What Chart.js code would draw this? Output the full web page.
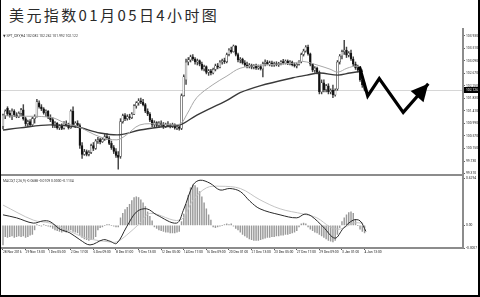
<!DOCTYPE html>
<html>
<head>
<meta charset="utf-8">
<script src="https://cdn.jsdelivr.net/npm/chart.js@4.4.0/dist/chart.umd.min.js"></script>
<style>
  body { margin: 0; background: #fff; }
  #wrap { position: relative; width: 480px; height: 297px; overflow: hidden; font-family: Roboto, "DejaVu Sans", sans-serif; }
  #frame { position: absolute; left: 0; top: 0; width: 477px; height: 295px; border-left: 1px solid #000; border-right: 2px solid #000; border-bottom: 2px solid #000; }
  #title { position: absolute; left: 9px; top: 4px; font: 15px "Noto Sans CJK SC", sans-serif; letter-spacing: 2.4px; color: #2a2a2a; white-space: nowrap; }
  .hdr { position: absolute; left: 3px; font-size: 3.4px; color: #333; white-space: nowrap; }
  canvas { position: absolute; left: 0; }
</style>
</head>
<body>
<div id="wrap">
  <div id="title">美元指数01月05日4小时图</div>
  <canvas id="priceChart" width="480" height="150" style="top:28px"></canvas>
  <canvas id="macdChart" width="480" height="92" style="top:170px"></canvas>
  <div class="hdr" style="top:34px">&#9660; SPT_DXY,H4 102.082 102.262 101.992 102.122</div>
  <div class="hdr" style="top:179px">MACD(12,26,9) -0.0688 -0.0109 0.0000 -0.1134</div>
  <div id="frame"></div>
</div>
<script>
// K线 (H4)，每根一个值
var opens = [100.88,101.25,101.50,101.33,101.25,101.40,101.28,101.22,101.33,101.45,
  101.15,100.98,101.05,100.95,101.15,101.22,101.68,101.55,101.48,101.35,
  101.40,101.20,101.12,100.92,101.00,100.85,100.90,100.82,101.00,100.95,
  100.85,101.40,100.92,101.00,100.92,100.25,99.95,100.05,99.95,100.02,
  100.25,100.15,100.40,100.45,100.38,100.46,100.55,100.50,100.32,100.18,
  100.05,99.92,99.88,101.05,101.25,101.15,101.22,101.18,101.30,101.58,
  101.68,101.75,101.70,101.62,101.40,101.30,101.10,100.95,101.02,100.92,
  101.00,100.95,100.88,100.96,100.92,100.90,100.95,100.84,100.88,100.82,
  101.92,102.45,103.05,103.12,103.22,103.15,103.05,103.10,102.98,102.82,
  102.90,102.70,102.75,102.68,102.80,102.92,102.88,103.05,103.10,103.06,
  103.30,103.45,103.40,103.58,103.30,103.12,103.15,103.02,102.95,102.90,
  102.95,102.88,102.92,102.85,102.90,102.82,103.00,103.05,102.98,103.02,
  102.95,103.00,102.96,103.00,103.06,103.02,103.08,103.00,103.05,102.96,
  102.92,102.97,103.05,103.30,103.42,103.55,103.32,102.98,102.78,102.85,
  102.70,102.05,102.35,102.12,102.25,102.05,102.10,101.95,102.15,103.05,
  103.25,103.40,103.45,103.28,103.35,103.15,102.98,102.85,102.78,102.45,
  102.28];
var highs = [101.30,101.45,101.55,101.42,101.48,101.45,101.35,101.38,101.50,101.62,
  101.20,101.10,101.12,101.20,101.28,101.80,101.75,101.62,101.52,101.45,
  101.42,101.28,101.18,101.05,101.02,100.95,100.98,101.05,101.08,101.00,
  101.45,101.55,101.05,101.08,100.98,100.35,100.12,100.10,100.08,100.30,
  100.35,100.45,100.52,100.50,100.50,100.62,100.65,100.55,100.40,100.25,
  100.15,100.05,101.15,101.30,101.32,101.28,101.30,101.35,101.62,101.72,
  101.82,101.84,101.80,101.66,101.48,101.35,101.15,101.08,101.05,101.05,
  101.08,101.02,101.00,101.05,100.98,101.00,100.98,100.92,100.90,101.98,
  102.62,103.15,103.20,103.28,103.30,103.20,103.15,103.12,103.05,102.95,
  102.92,102.80,102.80,102.85,102.98,103.00,103.10,103.15,103.18,103.35,
  103.50,103.55,103.62,103.60,103.35,103.20,103.18,103.10,103.05,103.00,
  102.98,102.96,102.98,102.95,102.95,103.05,103.12,103.10,103.08,103.08,
  103.05,103.06,103.04,103.10,103.14,103.12,103.12,103.10,103.08,103.02,
  103.00,103.10,103.35,103.48,103.60,103.62,103.35,103.00,102.90,102.88,
  102.75,102.45,102.45,102.30,102.32,102.15,102.28,102.15,103.10,103.30,
  103.45,103.78,103.55,103.40,103.45,103.22,103.05,102.95,102.85,102.55,
  102.35];
var lows = [100.81,101.15,101.25,101.20,101.12,101.22,101.18,101.18,101.25,101.10,
  100.90,100.88,100.90,100.92,101.00,101.20,101.50,101.42,101.30,101.22,
  101.15,101.05,100.85,100.85,100.80,100.78,100.78,100.80,100.90,100.80,
  100.82,100.88,100.85,100.88,100.15,99.82,99.92,99.90,99.90,99.98,
  100.08,100.12,100.32,100.30,100.35,100.42,100.45,100.28,100.12,99.98,
  99.85,99.46,99.82,101.00,101.08,101.10,101.12,101.15,101.28,101.50,
  101.60,101.65,101.58,101.35,101.25,101.05,100.88,100.88,100.88,100.85,
  100.90,100.82,100.85,100.88,100.84,100.85,100.80,100.78,100.76,100.78,
  101.90,102.30,102.95,103.05,103.10,102.98,102.95,102.92,102.78,102.75,
  102.65,102.60,102.62,102.65,102.75,102.82,102.85,102.98,103.00,103.02,
  103.25,103.35,103.38,103.25,103.05,103.02,102.98,102.90,102.85,102.85,
  102.82,102.82,102.80,102.80,102.78,102.55,102.92,102.95,102.92,102.90,
  102.90,102.92,102.90,102.95,102.98,102.98,102.96,102.95,102.92,102.88,
  102.85,102.94,103.02,103.25,103.38,103.28,102.92,102.72,102.70,102.65,
  101.98,101.98,102.05,102.05,101.98,101.98,101.85,101.90,102.10,102.98,
  103.15,103.30,103.20,103.22,103.10,102.92,102.80,102.72,102.40,102.20,
  102.08];
var closes = [101.27,101.40,101.32,101.25,101.40,101.28,101.22,101.33,101.45,101.15,
  100.98,101.05,100.95,101.15,101.22,101.72,101.55,101.48,101.35,101.40,
  101.20,101.12,100.92,101.00,100.85,100.90,100.82,101.00,100.95,100.85,
  101.40,100.92,101.00,100.92,100.25,99.95,100.05,99.95,100.02,100.25,
  100.15,100.40,100.45,100.38,100.46,100.55,100.50,100.32,100.18,100.05,
  99.92,99.85,101.05,101.25,101.15,101.22,101.18,101.30,101.58,101.68,
  101.75,101.70,101.62,101.40,101.30,101.10,100.95,101.02,100.92,101.00,
  100.95,100.88,100.96,100.92,100.90,100.95,100.84,100.88,100.82,101.92,
  102.55,103.05,103.12,103.22,103.15,103.05,103.10,102.98,102.82,102.90,
  102.70,102.75,102.68,102.80,102.92,102.88,103.05,103.10,103.06,103.30,
  103.45,103.40,103.58,103.30,103.12,103.15,103.02,102.95,102.90,102.95,
  102.88,102.92,102.85,102.90,102.82,103.00,103.05,102.98,103.02,102.95,
  103.00,102.96,103.00,103.06,103.02,103.08,103.00,103.05,102.96,102.92,
  102.97,103.05,103.30,103.42,103.55,103.32,102.98,102.78,102.85,102.70,
  102.05,102.35,102.12,102.25,102.05,102.10,101.95,102.10,103.05,103.25,
  103.40,103.45,103.28,103.35,103.15,102.98,102.85,102.78,102.45,102.28,
  102.13];

// 均线 (读到的点: K线序号, 价格)
var maFastBars = [0, 7.5, 13.3, 20.8, 23.9, 28.3, 32.7, 42.9, 50.4, 54, 60.6, 69.5, 78.3, 81.4, 85.8, 92.9, 99.1, 104.9, 113.7, 128.3, 132.7, 139.4, 144.7, 148.2, 152.2, 156.6, 159.3];
var maFastVals = [101.25, 101.23, 101.23, 101.20, 101.13, 100.97, 100.90, 100.54, 100.44, 100.57, 100.94, 100.97, 100.97, 101.30, 101.86, 102.29, 102.58, 102.84, 102.94, 103.01, 103.07, 102.94, 102.81, 102.71, 102.84, 102.91, 102.78];
var maSlowBars = [0, 7.5, 20.8, 32.7, 42.9, 51.8, 60.6, 69.5, 78.3, 85.8, 99.1, 104.9, 113.7, 128.3, 134.5, 140.3, 148.2, 153.5, 159.3];
var maSlowVals = [100.77, 100.84, 100.94, 100.87, 100.67, 100.61, 100.77, 100.87, 100.94, 101.27, 101.76, 102.02, 102.25, 102.52, 102.61, 102.68, 102.61, 102.68, 102.75];

// MACD 柱子 (每根K线一个)
var macdHist = [-0.26,
  -0.15,-0.16,-0.15,-0.14,-0.16,-0.15,
  -0.14,-0.15,-0.14,-0.16,-0.15,-0.13,
  -0.12,-0.06,
  0.01,0.00,-0.01,0.01,0.00,-0.01,-0.02,
  -0.04,-0.06,-0.07,-0.08,-0.09,-0.08,-0.09,-0.07,
  -0.06,-0.08,-0.09,-0.10,-0.13,-0.16,-0.18,-0.19,-0.20,-0.19,-0.18,-0.15,
  -0.06,-0.03,-0.02,0.00,0.01,0.01,0.00,-0.01,-0.02,-0.02,
  0.10,
  0.16,0.21,0.24,0.28,0.33,0.37,0.38,0.37,0.34,0.30,0.25,
  0.18,0.12,0.06,
  -0.02,-0.04,-0.06,-0.07,-0.08,-0.09,-0.09,-0.10,-0.10,-0.10,-0.09,-0.08,
  0.05,0.15,0.28,0.40,0.50,0.54,0.53,0.50,0.45,0.38,0.30,0.22,0.14,0.07,
  -0.02,-0.03,-0.02,-0.01,0.00,0.01,0.02,0.01,0.02,-0.01,-0.04,-0.06,
  -0.09,-0.12,-0.14,-0.16,-0.18,-0.19,-0.20,-0.20,-0.20,-0.19,-0.18,-0.17,-0.16,
  -0.16,-0.15,-0.15,-0.14,-0.14,-0.13,-0.13,-0.12,-0.12,-0.11,-0.10,-0.09,-0.07,
  -0.02,0.02,0.03,0.02,
  -0.02,-0.05,-0.07,-0.09,-0.10,-0.12,-0.14,-0.16,-0.18,-0.20,-0.21,-0.22,-0.20,-0.12,
  -0.03,0.05,0.10,0.14,0.17,0.18,0.16,
  0.08,0.00,-0.05,-0.08,-0.10];

// MACD 两条线 (读到的点)
var macdBars = [0, 6, 13.4, 17.8, 20.8, 25.2, 29.6, 34, 38.5, 44.4, 47.3, 50.3, 54.7, 59.1, 63.6, 68, 76.8, 79.8, 84.2, 87.2, 91.6, 96, 100.4, 105, 109.3, 113.7, 122.6, 130, 133.6, 136.6, 141.7, 146.9, 150.6, 155, 158, 160.6];
var macdVals = [0.14, 0.10, 0.03, 0.06, 0.05, -0.05, -0.10, -0.19, -0.26, -0.19, -0.21, -0.24, -0.02, 0.18, 0.22, 0.14, 0.03, 0.20, 0.54, 0.60, 0.56, 0.47, 0.49, 0.45, 0.32, 0.22, 0.14, 0.10, 0.15, 0.12, -0.02, -0.17, -0.04, 0.07, 0.06, -0.08];
var signalBars = [0, 13.4, 20.8, 28.2, 37, 47.3, 50.3, 54.7, 60.6, 65, 78.3, 84.2, 90.1, 96, 105, 113.7, 122.6, 133, 138.9, 144.8, 149.2, 155, 159.4];
var signalVals = [0.27, 0.07, 0.03, -0.06, -0.17, -0.22, -0.22, -0.13, 0.03, 0.16, 0.07, 0.34, 0.50, 0.52, 0.49, 0.34, 0.22, 0.15, 0.10, -0.02, -0.05, 0.03, 0.03];

// 坐标轴刻度
var priceTicks = [103.93, 103.51, 103.09, 102.67, 102.25, 101.83, 101.41, 100.99, 100.57, 100.15, 99.73, 99.31];
var macdTicks = [0.6294, 0, -0.3007];
var macdTickText = ['0.6294', '0.00', '-0.3007'];
var timeTickBars = [0, 10, 20, 30, 40, 50, 60, 70, 80, 90, 100, 110, 120, 130, 140, 150, 160];
var timeLabels = ['28 Nov 2016', '29 Nov 13:00', '1 Dec 05:00', '2 Dec 17:00', '6 Dec 09:00', '8 Dec 01:00', '9 Dec 13:00', '12 Dec 05:00', '14 Dec 17:00', '16 Dec 09:00', '20 Dec 01:00', '21 Dec 13:00', '23 Dec 05:00', '27 Dec 17:00', '29 Dec 09:00', '3 Jan 01:00', '4 Jan 13:00'];

var bidPrice = 102.126;

// 手画的走势箭头
var arrowBars = [157.7, 161.4, 166.5, 177.1, 188.2];
var arrowVals = [102.90, 101.91, 102.49, 101.36, 102.32];

var X_MIN = -0.44, X_MAX = 203.56;
var tinyFont = { family: 'Roboto', size: 3.3 };

function pts(xs, ys) {
    return xs.map(function(x, i) { return { x: x, y: ys[i] }; });
}

var bodies = [], wicks = [], bodyColors = [];
for (var i = 0; i < closes.length; i++) {
    var lo = Math.min(opens[i], closes[i]), hi = Math.max(opens[i], closes[i]);
    if (hi - lo < 0.01) { hi = lo + 0.01; }
    bodies.push({ x: i, y: [lo, hi] });
    wicks.push({ x: i, y: [lows[i], highs[i]] });
    bodyColors.push(closes[i] >= opens[i] ? '#ffffff' : '#111111');
}

// 边框、买价线和箭头头部
var panelLines = {
    id: 'panelLines',
    beforeDatasetsDraw: function(chart) {
        if (chart.canvas.id !== 'priceChart') return;
        var ctx = chart.ctx, a = chart.chartArea;
        var y = Math.round(chart.scales.y.getPixelForValue(bidPrice)) + 0.5;
        ctx.save();
        ctx.strokeStyle = '#d6d6d6';
        ctx.lineWidth = 1;
        ctx.beginPath(); ctx.moveTo(a.left - 2, y); ctx.lineTo(a.right, y); ctx.stroke();
        ctx.restore();
    },
    afterDraw: function(chart) {
        var ctx = chart.ctx, a = chart.chartArea;
        ctx.save();
        ctx.strokeStyle = '#8c8c8c';
        ctx.lineWidth = 2;
        ctx.beginPath();
        ctx.moveTo(0, a.bottom); ctx.lineTo(a.right + 1, a.bottom);
        ctx.moveTo(a.right, a.top - 3); ctx.lineTo(a.right, a.bottom);
        ctx.stroke();
        if (chart.canvas.id === 'priceChart') {
            var y = Math.round(chart.scales.y.getPixelForValue(bidPrice));
            ctx.fillStyle = '#000';
            ctx.fillRect(a.right + 1, y - 3, 16, 6);
            ctx.fillStyle = '#fff';
            ctx.font = '3.3px Roboto';
            ctx.textBaseline = 'middle';
            ctx.fillText(bidPrice.toFixed(3), a.right + 3, y);
            // 箭头头部
            var pts2 = chart.getDatasetMeta(4).data;
            var p1 = pts2[pts2.length - 2], p2 = pts2[pts2.length - 1];
            var ang = Math.atan2(p2.y - p1.y, p2.x - p1.x);
            var len = 17, half = 8.5;
            var bx = p2.x - len * Math.cos(ang), by = p2.y - len * Math.sin(ang);
            ctx.fillStyle = '#000';
            ctx.beginPath();
            ctx.moveTo(p2.x, p2.y);
            ctx.lineTo(bx + half * Math.sin(ang), by - half * Math.cos(ang));
            ctx.lineTo(bx - half * Math.sin(ang), by + half * Math.cos(ang));
            ctx.closePath();
            ctx.fill();
        }
        ctx.restore();
    }
};

var priceChart = new Chart(document.getElementById('priceChart'), {
    data: {
        datasets: [{
            type: 'bar',
            data: bodies,
            backgroundColor: bodyColors,
            borderColor: '#222',
            borderWidth: 0.5,
            borderSkipped: false,
            barThickness: 1.8,
            grouped: false,
            order: 2
        }, {
            type: 'bar',
            data: wicks,
            backgroundColor: '#444',
            barThickness: 0.8,
            grouped: false,
            order: 3
        }, {
            type: 'line',
            data: pts(maFastBars, maFastVals),
            borderColor: '#a8a8a8',
            borderWidth: 1,
            pointRadius: 0,
            tension: 0.35,
            order: 1
        }, {
            type: 'line',
            data: pts(maSlowBars, maSlowVals),
            borderColor: '#3a3a3a',
            borderWidth: 1.4,
            pointRadius: 0,
            tension: 0.35,
            order: 1
        }, {
            type: 'line',
            data: pts(arrowBars, arrowVals),
            borderColor: '#000',
            borderWidth: 3.2,
            pointRadius: 0,
            tension: 0,
            borderJoinStyle: 'miter',
            order: 0
        }]
    },
    options: {
        responsive: false,
        animation: false,
        events: [],
        layout: { padding: { left: 2, top: 2, bottom: 1, right: 0 } },
        plugins: { legend: { display: false }, tooltip: { enabled: false } },
        scales: {
            x: { type: 'linear', min: X_MIN, max: X_MAX, offset: false, display: false },
            y: {
                position: 'right',
                min: 99.26,
                max: 104.09,
                afterFit: function(scale) { scale.width = 17; },
                afterBuildTicks: function(scale) {
                    scale.ticks = priceTicks.map(function(v) { return { value: v }; });
                },
                ticks: {
                    font: tinyFont,
                    color: '#222',
                    padding: 1,
                    callback: function(v) { return v.toFixed(3); }
                },
                grid: { drawOnChartArea: false, tickLength: 2, color: '#666' },
                border: { display: false }
            }
        }
    },
    plugins: [panelLines]
});

var histData = macdHist.map(function(v, i) { return { x: i, y: v }; });

var macdChart = new Chart(document.getElementById('macdChart'), {
    data: {
        datasets: [{
            type: 'line',
            data: pts(macdBars, macdVals),
            borderColor: '#2a2a2a',
            borderWidth: 1,
            pointRadius: 0,
            tension: 0.35,
            order: 0
        }, {
            type: 'line',
            data: pts(signalBars, signalVals),
            borderColor: '#c4c4c4',
            borderWidth: 1,
            pointRadius: 0,
            tension: 0.35,
            order: 1
        }, {
            type: 'bar',
            data: histData,
            backgroundColor: '#9a9a9a',
            barThickness: 0.8,
            grouped: false,
            order: 2
        }]
    },
    options: {
        responsive: false,
        animation: false,
        events: [],
        layout: { padding: { left: 2, top: 8, bottom: 0, right: 0 } },
        plugins: { legend: { display: false }, tooltip: { enabled: false } },
        scales: {
            x: {
                type: 'linear',
                min: X_MIN,
                max: X_MAX,
                offset: false,
                afterFit: function(scale) { scale.height = 14; },
                afterBuildTicks: function(scale) {
                    scale.ticks = timeTickBars.map(function(v) { return { value: v }; });
                },
                ticks: {
                    font: tinyFont,
                    color: '#222',
                    align: 'start',
                    autoSkip: false,
                    maxRotation: 0,
                    minRotation: 0,
                    padding: 0,
                    callback: function(v, idx) { return timeLabels[idx]; }
                },
                grid: { drawOnChartArea: false, tickLength: 2, color: '#555', offset: false },
                border: { display: false }
            },
            y: {
                position: 'right',
                min: -0.3007,
                max: 0.6294,
                afterFit: function(scale) { scale.width = 17; },
                afterBuildTicks: function(scale) {
                    scale.ticks = macdTicks.map(function(v) { return { value: v }; });
                },
                ticks: {
                    font: tinyFont,
                    color: '#222',
                    padding: 1,
                    callback: function(v, idx) { return macdTickText[idx]; }
                },
                grid: { drawOnChartArea: false, tickLength: 2, color: '#666' },
                border: { display: false }
            }
        }
    },
    plugins: [panelLines]
});
</script>
</body>
</html>
